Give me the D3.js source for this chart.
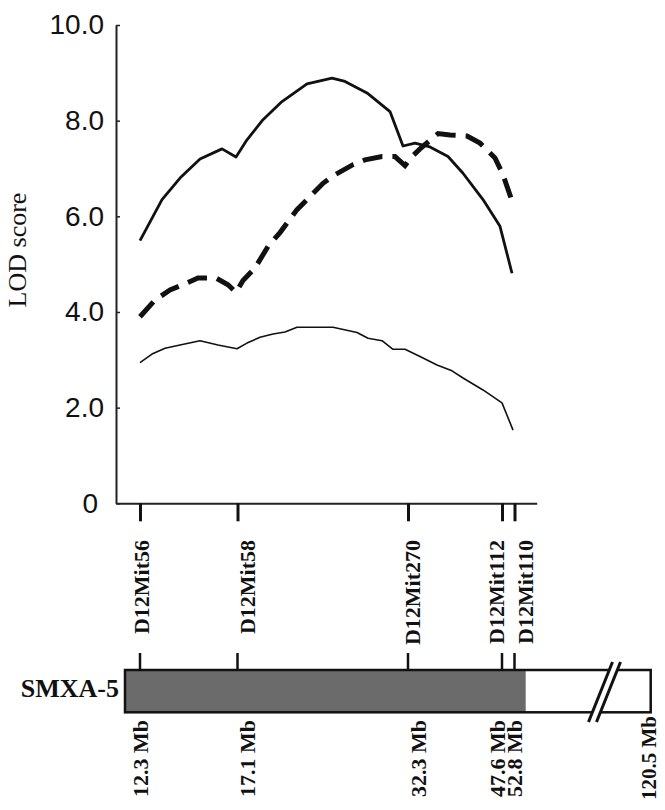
<!DOCTYPE html>
<html>
<head>
<meta charset="utf-8">
<script src="https://cdn.jsdelivr.net/npm/d3@7"></script>
<style>
  html, body { margin: 0; padding: 0; background: #fff; }
  svg { display: block; }
</style>
</head>
<body>
<svg id="chart" width="665" height="810"></svg>
<script>
// ---------------- DATA ----------------
const markers = ["D12Mit56", "D12Mit58", "D12Mit270", "D12Mit112", "D12Mit110"];
const markerPos = [0, 9.75, 26.8, 36.2, 37.45];           // map position (cM)
const physical = ["12.3 Mb", "17.1 Mb", "32.3 Mb", "47.6 Mb", "52.8 Mb"];
const chromEndLabel = "120.5 Mb";
const strainLabel = "SMXA-5";
const donorRegion = [-1.5, 38.57];                         // congenic segment (map units)
const chromEnd = 51.07;
const breakAt = 46.1;

const yTicks = [0, 2, 4, 6, 8, 10];
const yTickLabels = ["0", "2.0", "4.0", "6.0", "8.0", "10.0"];
const yTitle = "LOD score";

// Thick solid curve
const posA = [0, 2.2, 4.0, 6.0, 8.2, 9.6, 10.7, 12.3, 14.2, 16.7, 19.2, 20.5, 22.7, 25.0, 26.3, 27.5, 29.0, 30.8, 32.3, 34.3, 36.0, 37.2];
const lodA = [5.49, 6.35, 6.80, 7.20, 7.41, 7.24, 7.60, 8.02, 8.40, 8.77, 8.89, 8.82, 8.58, 8.19, 7.47, 7.53, 7.45, 7.25, 6.90, 6.35, 5.79, 4.81];

// Dashed curve
const posB = [0, 1.5, 3.0, 4.5, 5.8, 7.6, 8.8, 9.6, 10.3, 11.5, 12.8, 14.0, 15.7, 16.7, 18.3, 19.5, 21.3, 22.5, 24.2, 25.5, 26.5, 27.2, 28.0, 29.8, 31.0, 32.7, 34.0, 35.5, 36.3, 37.3];
const lodB = [3.90, 4.25, 4.46, 4.59, 4.71, 4.71, 4.57, 4.41, 4.66, 4.92, 5.37, 5.66, 6.14, 6.35, 6.69, 6.87, 7.08, 7.18, 7.25, 7.25, 7.06, 7.25, 7.41, 7.73, 7.70, 7.68, 7.53, 7.22, 6.87, 6.26];

// Thin solid curve
const posC = [0, 1.2, 2.5, 4.0, 6.0, 7.8, 9.7, 10.7, 12.0, 13.3, 14.5, 15.7, 19.3, 21.7, 22.8, 24.2, 25.3, 26.5, 28.0, 29.7, 31.2, 32.3, 34.3, 36.2, 37.3];
const lodC = [2.94, 3.12, 3.24, 3.31, 3.40, 3.31, 3.23, 3.35, 3.47, 3.54, 3.58, 3.68, 3.68, 3.57, 3.45, 3.40, 3.22, 3.22, 3.07, 2.89, 2.77, 2.62, 2.37, 2.10, 1.53];

// ---------------- LAYOUT ----------------
const svg = d3.select("#chart");
const x = d3.scaleLinear().domain([-2.4, 39.67]).range([116, 536.7]);
const y = d3.scaleLinear().domain([0, 10]).range([503.3, 25]);

const serif = "'Liberation Serif', 'Times New Roman', serif";
const sans = "'Liberation Sans', Arial, sans-serif";

// label nudges (px) for crowded rotated labels
const markerLabelDx = [2, 10, 5, -5, 11];
const physLabelDx = [1, 10, 11, -4, 0];

// Y axis
const yAxis = d3.axisLeft(y)
  .tickValues(yTicks)
  .tickFormat((d, i) => yTickLabels[i])
  .tickSizeInner(-4)
  .tickSizeOuter(0)
  .tickPadding(12);
const gy = svg.append("g").attr("transform", `translate(${x.range()[0]},0)`).call(yAxis);
gy.select(".domain").attr("stroke", "#222").attr("stroke-width", 2);
gy.selectAll(".tick line").attr("stroke", "#222").attr("stroke-width", 1.5);
gy.selectAll(".tick text")
  .attr("font-family", sans).attr("font-size", 28).attr("fill", "#111")
  .attr("dx", (d) => d === 0 ? -6 : 0);

// Y title
svg.append("text")
  .attr("transform", `translate(26,250) rotate(-90)`)
  .attr("text-anchor", "middle")
  .attr("font-family", serif).attr("font-size", 26).attr("fill", "#111")
  .text(yTitle);

// X axis (marker ticks)
const xAxis = d3.axisBottom(x)
  .tickValues(markerPos)
  .tickFormat("")
  .tickSizeInner(18)
  .tickSizeOuter(0);
const gx = svg.append("g").attr("transform", `translate(0,${y(0)})`).call(xAxis);
gx.select(".domain").attr("stroke", "#222").attr("stroke-width", 2);
gx.selectAll(".tick line").attr("stroke", "#111").attr("stroke-width", 3);

// Curves
const line = d3.line().x(d => x(d[0])).y(d => y(d[1]));
svg.append("path")
  .datum(d3.zip(posC, lodC))
  .attr("d", line).attr("fill", "none")
  .attr("stroke", "#111").attr("stroke-width", 1.6).attr("stroke-linejoin", "round");
svg.append("path")
  .datum(d3.zip(posA, lodA))
  .attr("d", line).attr("fill", "none")
  .attr("stroke", "#111").attr("stroke-width", 2.8).attr("stroke-linejoin", "round");
svg.append("path")
  .datum(d3.zip(posB, lodB))
  .attr("d", line).attr("fill", "none")
  .attr("stroke", "#111").attr("stroke-width", 5)
  .attr("stroke-dasharray", "20,10");

// Marker labels (rotated)
svg.append("g").selectAll("text")
  .data(markers)
  .join("text")
  .attr("transform", (d, i) => `translate(${x(markerPos[i]) + markerLabelDx[i]},540) rotate(-90)`)
  .attr("text-anchor", "end")
  .attr("dy", "0.33em")
  .attr("font-family", serif).attr("font-weight", "bold").attr("font-size", 22).attr("fill", "#111")
  .text(d => d);

// Chromosome bar
const barTop = 670, barBot = 712.3;
svg.append("g").selectAll("line")
  .data(markerPos)
  .join("line")
  .attr("x1", d => x(d)).attr("x2", d => x(d))
  .attr("y1", 653).attr("y2", barTop)
  .attr("stroke", "#111").attr("stroke-width", 2.5);

svg.append("rect")
  .attr("x", x(donorRegion[0])).attr("y", barTop)
  .attr("width", x(chromEnd) - x(donorRegion[0])).attr("height", barBot - barTop)
  .attr("fill", "#fff");
svg.append("rect")
  .attr("x", x(donorRegion[0])).attr("y", barTop)
  .attr("width", x(donorRegion[1]) - x(donorRegion[0])).attr("height", barBot - barTop)
  .attr("fill", "#6b6b6b");
svg.append("rect")
  .attr("x", x(donorRegion[0])).attr("y", barTop)
  .attr("width", x(chromEnd) - x(donorRegion[0])).attr("height", barBot - barTop)
  .attr("fill", "none").attr("stroke", "#111").attr("stroke-width", 2.5);

// Break mark
const bx = x(breakAt);
svg.append("polygon")
  .attr("points", `${bx - 12.5},722 ${bx - 4.5},722 ${bx + 19.5},662 ${bx + 11.5},662`)
  .attr("fill", "#fff");
[[-12.5, 11.5], [-4.5, 19.5]].forEach(([b, t]) => {
  svg.append("line")
    .attr("x1", bx + b).attr("y1", 722).attr("x2", bx + t).attr("y2", 662)
    .attr("stroke", "#111").attr("stroke-width", 3);
});

// Strain label
svg.append("text")
  .attr("x", 119).attr("y", 697)
  .attr("text-anchor", "end")
  .attr("font-family", serif).attr("font-weight", "bold").attr("font-size", 26).attr("fill", "#111")
  .text(strainLabel);

// Physical position labels
svg.append("g").selectAll("text")
  .data(physical)
  .join("text")
  .attr("transform", (d, i) => `translate(${x(markerPos[i]) + physLabelDx[i]},720) rotate(-90)`)
  .attr("text-anchor", "end")
  .attr("dy", "0.33em")
  .attr("font-family", serif).attr("font-weight", "bold").attr("font-size", 22).attr("fill", "#111")
  .text(d => d);
svg.append("text")
  .attr("transform", `translate(${x(chromEnd) - 2},716) rotate(-90)`)
  .attr("text-anchor", "end")
  .attr("dy", "0.33em")
  .attr("font-family", serif).attr("font-weight", "bold").attr("font-size", 21).attr("fill", "#111")
  .text(chromEndLabel);
</script>
</body>
</html>
